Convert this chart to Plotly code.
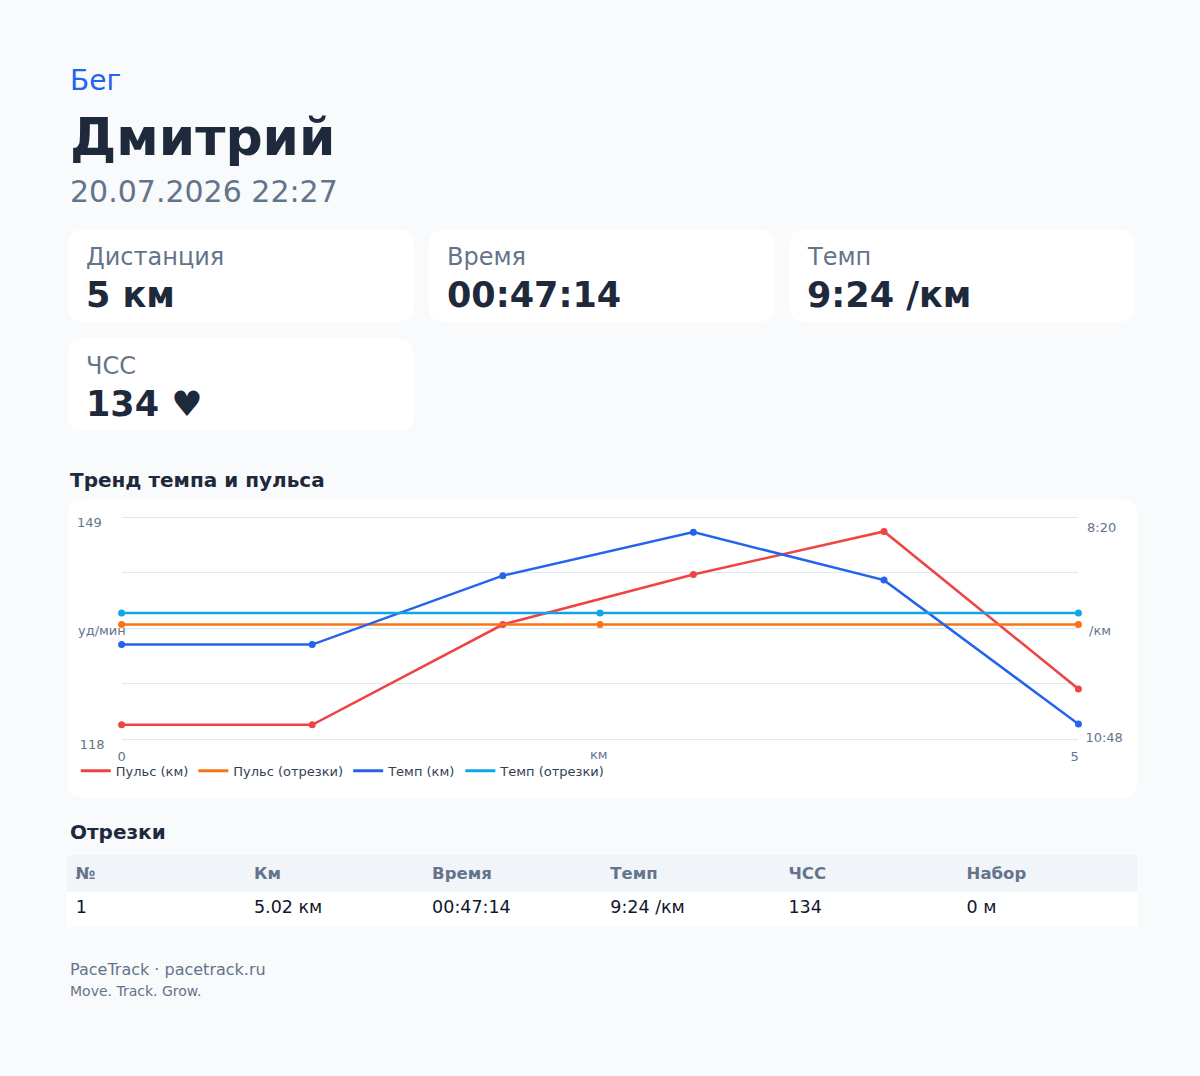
import plotly.graph_objects as go

W, H = 1200, 1076
FONT = "DejaVu Sans"
DARK = "#1e293b"
MUTED = "#64748b"

# run summary
sport = "Бег"
athlete = "Дмитрий"
started = "20.07.2026 22:27"
card_labels = ["Дистанция", "Время", "Темп", "ЧСС"]
card_values = ["5 км", "00:47:14", "9:24 /км", "134 ♥"]

# per-km trend
km_x = [0, 1, 2, 3, 4, 5.02]
hr_km = [120, 120, 134, 141, 147, 125]
pace_km = [585, 585, 539, 510, 542, 638]  # sec per km

# splits (one split over the whole run)
seg_x = [0, 2.51, 5.02]
hr_seg = [134, 134, 134]
pace_seg = [564, 564, 564]

hr_min, hr_max = 118, 149
hr_grid = [118, 125.75, 133.5, 141.25, 149]
pace_fast, pace_slow = 500, 648
pace_fast_label, pace_slow_label = "8:20", "10:48"
x_ticks = [0, 5]

# splits table
table_head = ["№", "Км", "Время", "Темп", "ЧСС", "Набор"]
table_row = ["1", "5.02 км", "00:47:14", "9:24 /км", "134", "0 м"]

series = [
    ("Пульс (км)", "#ef4444"),
    ("Пульс (отрезки)", "#f97316"),
    ("Темп (км)", "#2563eb"),
    ("Темп (отрезки)", "#0ea5e9"),
]


def px(x):
    return x / W


def py(y):
    return 1 - y / H


def rounded(x0, y0, x1, y1, r):
    pts = [
        ("M", x0 + r, y0), ("L", x1 - r, y0), ("Q", x1, y0, x1, y0 + r),
        ("L", x1, y1 - r), ("Q", x1, y1, x1 - r, y1), ("L", x0 + r, y1),
        ("Q", x0, y1, x0, y1 - r), ("L", x0, y0 + r), ("Q", x0, y0, x0 + r, y0),
    ]
    out = ""
    for p in pts:
        cmd, vals = p[0], p[1:]
        coords = []
        for i in range(0, len(vals), 2):
            coords.append(f"{px(vals[i]):.5f},{py(vals[i + 1]):.5f}")
        out += cmd + " ".join(coords) + " "
    return out + "Z"


fig = go.Figure()

lines = [(km_x, hr_km, "y"), (seg_x, hr_seg, "y"), (km_x, pace_km, "y2"), (seg_x, pace_seg, "y2")]
for (xs, ys, ax), (name, color) in zip(lines, series):
    fig.add_trace(go.Scatter(
        x=xs, y=ys, yaxis=ax, mode="lines+markers", name=name, showlegend=False,
        line=dict(color=color, width=2.5), marker=dict(color=color, size=7),
        cliponaxis=False,
    ))
# legend entries drawn as plain lines
for name, color in series:
    fig.add_trace(go.Scatter(
        x=[None], y=[None], mode="lines", name=name,
        line=dict(color=color, width=3),
    ))

fig.add_trace(go.Table(
    domain=dict(x=[px(64), px(1137)], y=[py(936), py(864)]),
    columnwidth=[1] * len(table_head),
    header=dict(
        values=[f"<b>{h}</b>" for h in table_head], height=36, align="left",
        fill_color="#f1f5f9", line_color="#f1f5f9",
        font=dict(family=FONT, size=16.5, color=MUTED),
    ),
    cells=dict(
        values=[[v] for v in table_row], height=35, align="left",
        fill_color="white", line_color="white",
        font=dict(family=FONT, size=17.5, color="#0f172a"),
    ),
))

shapes = []
cards = [(64, 232, 411, 325), (426, 232, 773, 325), (788, 232, 1135, 325), (64, 342, 411, 435)]
for c in cards:
    shapes.append(dict(type="path", path=rounded(*c, 16), xref="paper", yref="paper",
                       fillcolor="white", line=dict(width=0), layer="below"))
shapes.append(dict(type="path", path=rounded(64, 504, 1137, 805, 16), xref="paper", yref="paper",
                   fillcolor="white", line=dict(width=0), layer="below"))

ann = []


def text(x, y, s, size, color, bold=False, anchor="left"):
    ann.append(dict(x=px(x), y=py(y), xref="paper", yref="paper", showarrow=False,
                    text=f"<b>{s}</b>" if bold else s, xanchor=anchor, yanchor="middle",
                    font=dict(family=FONT, size=size, color=color)))


text(64, 81, sport, 28, "#2563eb")
text(64, 138, athlete, 52, DARK, bold=True)
text(64, 193, started, 30, MUTED)
for (x0, y0, x1, y1), lab, val in zip(cards, card_labels, card_values):
    text(x0 + 16, y0 + 27, lab, 24, MUTED)
    text(x0 + 16, y0 + 66, val, 35, DARK, bold=True)
text(64, 484, "Тренд темпа и пульса", 20, DARK, bold=True)
text(64, 840, "Отрезки", 20, DARK, bold=True)
text(72, 636, "уд/мин", 13, MUTED)
text(1087, 636, "/км", 13, MUTED)
text(597, 762, "км", 13, MUTED, anchor="center")
text(64, 979, "PaceTrack · pacetrack.ru", 16, MUTED)
text(64, 1000, "Move. Track. Grow.", 14, MUTED)

tick_font = dict(family=FONT, size=13, color=MUTED)
# top labels of both y scales sit a little below their gridline
ann.append(dict(x=px(100), xref="paper", y=hr_max, yref="y", yshift=-5, showarrow=False,
                text=str(hr_max), xanchor="right", yanchor="middle", font=tick_font))
ann.append(dict(x=px(1085), xref="paper", y=pace_fast, yref="y2", yshift=-10, showarrow=False,
                text=pace_fast_label, xanchor="left", yanchor="middle", font=tick_font))

# a little headroom so the outer gridlines are not clipped away
pad = 0.3
px_per_bpm = (746 - 522) / (hr_max - hr_min)
pace_pad = pad * (pace_slow - pace_fast) / (hr_max - hr_min)
plain = dict(showgrid=False, zeroline=False, showline=False, ticks="", tickfont=tick_font)

fig.update_layout(
    width=W, height=H,
    margin=dict(l=0, r=0, t=0, b=0),
    paper_bgcolor="#f8fafc",
    plot_bgcolor="rgba(0,0,0,0)",
    font=dict(family=FONT, color=DARK),
    shapes=shapes,
    annotations=ann,
    xaxis=dict(
        domain=[px(118), px(1078)], range=[0, 5.02], tickvals=x_ticks,
        ticklabelstandoff=6, **plain,
    ),
    yaxis=dict(
        domain=[py(746 + pad * px_per_bpm), py(522 - pad * px_per_bpm)],
        range=[hr_min - pad, hr_max + pad], tickvals=hr_grid,
        ticktext=[str(hr_min)] + [""] * (len(hr_grid) - 1),
        showgrid=True, gridcolor="#e2e8f0", gridwidth=1, zeroline=False, showline=False,
        ticks="", tickfont=tick_font, ticklabelstandoff=16, ticklabelshift=5,
    ),
    yaxis2=dict(
        overlaying="y", side="right", range=[pace_slow + pace_pad, pace_fast - pace_pad],
        tickvals=[pace_slow], ticktext=[pace_slow_label],
        ticklabelstandoff=6, ticklabelshift=2, **plain,
    ),
    legend=dict(
        orientation="h", x=px(72), y=py(778), xanchor="left", yanchor="middle",
        bgcolor="rgba(0,0,0,0)", font=dict(family=FONT, size=13, color="#334155"),
        itemwidth=30,
    ),
    hovermode=False,
)

# pin the figure to the top-left corner of the window, no page margins
page_css = (
    "document.documentElement.style.margin='0';"
    "document.documentElement.style.overflow='hidden';"
    "document.body.style.margin='0';"
    "document.body.style.overflow='hidden';"
    "document.body.style.background='#f8fafc';"
    "var gd=document.querySelector('.plotly-graph-div');"
    "gd.style.position='fixed';gd.style.top='0';gd.style.left='0';"
)
fig.write_html("out.html", config={"displayModeBar": False}, post_script=page_css)
